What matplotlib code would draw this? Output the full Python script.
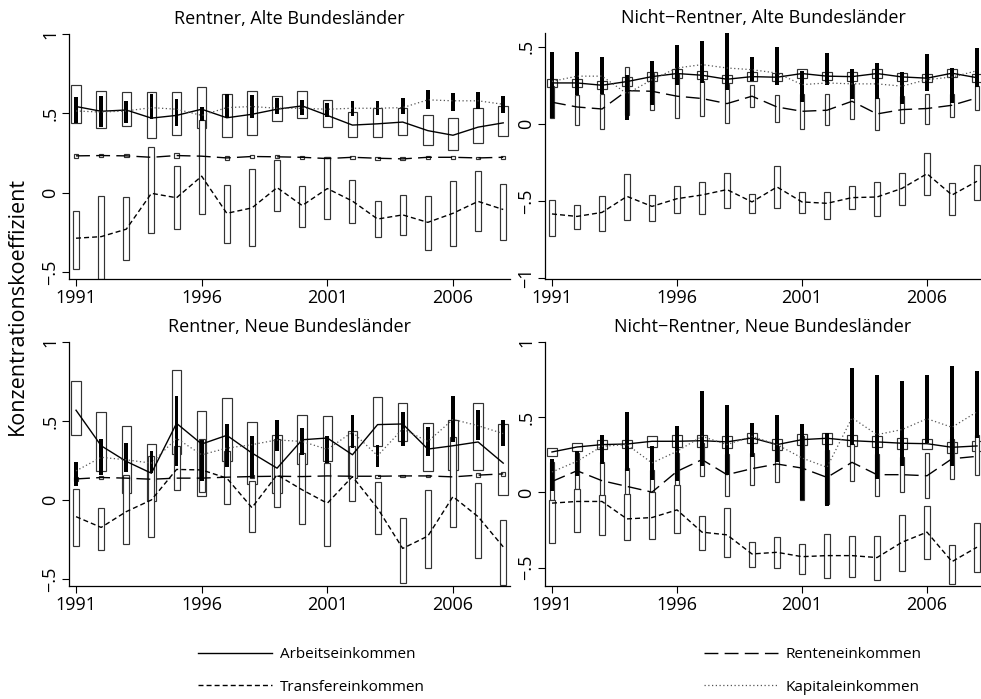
import numpy as np
import matplotlib
matplotlib.use('Agg')
import matplotlib.pyplot as plt
from matplotlib.lines import Line2D

plt.rcParams['font.family'] = ['Open Sans', 'DejaVu Sans']

years = np.arange(1991, 2009)
xticks = [1991, 1996, 2001, 2006]

# Rentner, Alte Bundeslaender
ra_arb = [0.543, 0.513, 0.521, 0.470, 0.487, 0.526, 0.472, 0.494, 0.526, 0.547, 0.487, 0.426, 0.434, 0.445, 0.391, 0.362, 0.413, 0.440]
ra_arb_lo = [0.438, 0.410, 0.421, 0.343, 0.364, 0.410, 0.353, 0.364, 0.449, 0.470, 0.411, 0.353, 0.349, 0.366, 0.300, 0.266, 0.313, 0.355]
ra_arb_hi = [0.679, 0.640, 0.636, 0.632, 0.632, 0.666, 0.623, 0.643, 0.611, 0.638, 0.585, 0.509, 0.534, 0.536, 0.491, 0.470, 0.534, 0.547]
ra_ren = [0.232, 0.234, 0.232, 0.223, 0.234, 0.230, 0.219, 0.228, 0.226, 0.223, 0.215, 0.223, 0.217, 0.213, 0.223, 0.223, 0.219, 0.223]
ra_ren_lo = [0.221, 0.223, 0.222, 0.212, 0.219, 0.215, 0.209, 0.218, 0.217, 0.213, 0.205, 0.214, 0.208, 0.204, 0.214, 0.214, 0.210, 0.214]
ra_ren_hi = [0.243, 0.245, 0.242, 0.234, 0.249, 0.245, 0.229, 0.238, 0.235, 0.233, 0.225, 0.232, 0.226, 0.222, 0.232, 0.232, 0.228, 0.232]
ra_tra = [-0.287, -0.277, -0.230, -0.004, -0.032, 0.104, -0.130, -0.096, 0.032, -0.081, 0.026, -0.053, -0.166, -0.140, -0.187, -0.130, -0.055, -0.106]
ra_tra_lo = [-0.481, -0.545, -0.423, -0.255, -0.226, -0.134, -0.317, -0.334, -0.113, -0.219, -0.166, -0.191, -0.277, -0.268, -0.364, -0.336, -0.240, -0.300]
ra_tra_hi = [-0.113, -0.019, -0.026, 0.287, 0.166, 0.455, 0.051, 0.147, 0.206, 0.040, 0.228, 0.079, -0.053, -0.017, -0.021, 0.072, 0.138, 0.057]
ra_kap = [0.515, 0.508, 0.515, 0.536, 0.526, 0.487, 0.536, 0.543, 0.532, 0.532, 0.526, 0.532, 0.532, 0.536, 0.585, 0.579, 0.579, 0.557]
ra_kap_lo = [0.440, 0.413, 0.436, 0.462, 0.423, 0.451, 0.472, 0.472, 0.494, 0.487, 0.477, 0.483, 0.487, 0.498, 0.530, 0.515, 0.530, 0.504]
ra_kap_hi = [0.600, 0.611, 0.577, 0.621, 0.589, 0.543, 0.621, 0.613, 0.596, 0.583, 0.568, 0.579, 0.579, 0.596, 0.647, 0.630, 0.632, 0.611]

# Nicht-Rentner, Alte Bundeslaender
na_arb = [0.266, 0.266, 0.251, 0.275, 0.307, 0.327, 0.316, 0.290, 0.307, 0.303, 0.327, 0.310, 0.307, 0.327, 0.305, 0.297, 0.329, 0.300]
na_arb_lo = [0.240, 0.239, 0.224, 0.248, 0.280, 0.299, 0.289, 0.263, 0.280, 0.276, 0.299, 0.283, 0.280, 0.300, 0.278, 0.270, 0.302, 0.273]
na_arb_hi = [0.292, 0.293, 0.278, 0.302, 0.334, 0.355, 0.343, 0.317, 0.334, 0.330, 0.355, 0.337, 0.334, 0.354, 0.332, 0.324, 0.356, 0.327]
na_ren = [0.141, 0.110, 0.097, 0.216, 0.212, 0.180, 0.165, 0.132, 0.180, 0.110, 0.082, 0.089, 0.147, 0.065, 0.093, 0.100, 0.121, 0.169]
na_ren_lo = [0.039, -0.004, -0.030, 0.060, 0.093, 0.039, 0.054, 0.006, 0.108, 0.013, -0.032, -0.009, 0.035, -0.037, 0.006, 0.002, 0.045, 0.093]
na_ren_hi = [0.243, 0.186, 0.197, 0.370, 0.331, 0.321, 0.276, 0.258, 0.252, 0.190, 0.196, 0.195, 0.259, 0.167, 0.180, 0.195, 0.197, 0.245]
na_tra = [-0.584, -0.600, -0.574, -0.470, -0.535, -0.485, -0.461, -0.426, -0.506, -0.409, -0.506, -0.515, -0.478, -0.474, -0.418, -0.323, -0.461, -0.372]
na_tra_lo = [-0.725, -0.682, -0.695, -0.621, -0.630, -0.576, -0.584, -0.545, -0.580, -0.545, -0.578, -0.615, -0.552, -0.597, -0.526, -0.461, -0.589, -0.494]
na_tra_hi = [-0.491, -0.528, -0.470, -0.325, -0.461, -0.405, -0.379, -0.320, -0.455, -0.271, -0.444, -0.442, -0.405, -0.379, -0.318, -0.190, -0.381, -0.266]
na_kap = [0.276, 0.310, 0.310, 0.196, 0.287, 0.363, 0.385, 0.363, 0.352, 0.330, 0.255, 0.266, 0.260, 0.260, 0.245, 0.288, 0.304, 0.345]
na_kap_lo = [0.039, 0.186, 0.197, 0.026, 0.126, 0.251, 0.266, 0.223, 0.277, 0.255, 0.141, 0.255, 0.162, 0.162, 0.132, 0.212, 0.136, 0.240]
na_kap_hi = [0.468, 0.466, 0.435, 0.316, 0.411, 0.509, 0.541, 0.600, 0.435, 0.498, 0.342, 0.461, 0.359, 0.396, 0.335, 0.455, 0.364, 0.494]

# Rentner, Neue Bundeslaender
rn_arb = [0.568, 0.343, 0.244, 0.169, 0.485, 0.354, 0.409, 0.297, 0.201, 0.381, 0.392, 0.286, 0.477, 0.481, 0.322, 0.343, 0.367, 0.233]
rn_arb_lo = [0.413, 0.186, 0.042, -0.004, 0.290, 0.028, 0.244, 0.100, 0.042, 0.229, 0.248, 0.138, 0.339, 0.371, 0.186, 0.191, 0.189, 0.032]
rn_arb_hi = [0.756, 0.559, 0.468, 0.354, 0.820, 0.564, 0.646, 0.496, 0.413, 0.540, 0.532, 0.434, 0.653, 0.614, 0.487, 0.504, 0.612, 0.481]
rn_ren = [0.133, 0.142, 0.138, 0.131, 0.138, 0.138, 0.144, 0.148, 0.150, 0.148, 0.152, 0.150, 0.150, 0.152, 0.152, 0.146, 0.157, 0.165]
rn_ren_lo = [0.122, 0.131, 0.127, 0.120, 0.126, 0.127, 0.133, 0.138, 0.140, 0.137, 0.142, 0.141, 0.141, 0.143, 0.143, 0.136, 0.146, 0.153]
rn_ren_hi = [0.144, 0.153, 0.149, 0.142, 0.150, 0.149, 0.155, 0.158, 0.160, 0.159, 0.162, 0.159, 0.159, 0.161, 0.161, 0.156, 0.168, 0.177]
rn_tra = [-0.106, -0.174, -0.074, 0.000, 0.193, 0.190, 0.138, -0.049, 0.159, 0.064, -0.021, 0.148, -0.053, -0.307, -0.229, 0.021, -0.106, -0.297]
rn_tra_lo = [-0.292, -0.318, -0.282, -0.237, 0.064, 0.050, -0.028, -0.200, -0.047, -0.155, -0.290, -0.004, -0.214, -0.525, -0.430, -0.170, -0.367, -0.536]
rn_tra_hi = [0.070, -0.051, 0.159, 0.275, 0.339, 0.386, 0.307, 0.117, 0.386, 0.300, 0.233, 0.339, 0.112, -0.114, 0.061, 0.400, 0.106, -0.127]
rn_kap = [0.184, 0.270, 0.254, 0.233, 0.390, 0.286, 0.328, 0.350, 0.380, 0.370, 0.320, 0.430, 0.280, 0.450, 0.370, 0.510, 0.470, 0.420]
rn_kap_lo = [0.091, 0.159, 0.180, 0.169, 0.212, 0.121, 0.208, 0.138, 0.307, 0.282, 0.233, 0.328, 0.208, 0.339, 0.275, 0.367, 0.377, 0.339]
rn_kap_hi = [0.239, 0.386, 0.360, 0.307, 0.659, 0.381, 0.483, 0.403, 0.508, 0.455, 0.407, 0.540, 0.345, 0.555, 0.464, 0.655, 0.572, 0.506]

# Nicht-Rentner, Neue Bundeslaender
nn_arb = [0.269, 0.302, 0.318, 0.322, 0.340, 0.340, 0.344, 0.336, 0.362, 0.318, 0.351, 0.360, 0.344, 0.336, 0.327, 0.324, 0.300, 0.309]
nn_arb_lo = [0.245, 0.276, 0.290, 0.294, 0.303, 0.300, 0.304, 0.298, 0.327, 0.284, 0.316, 0.325, 0.307, 0.300, 0.292, 0.291, 0.265, 0.273]
nn_arb_hi = [0.293, 0.328, 0.346, 0.350, 0.377, 0.380, 0.384, 0.374, 0.397, 0.352, 0.386, 0.395, 0.381, 0.372, 0.362, 0.357, 0.335, 0.345]
nn_ren = [0.073, 0.144, 0.078, 0.040, 0.002, 0.140, 0.218, 0.118, 0.158, 0.189, 0.162, 0.100, 0.200, 0.118, 0.118, 0.111, 0.224, 0.240]
nn_ren_lo = [-0.053, 0.024, -0.040, -0.080, -0.100, 0.020, 0.107, -0.022, 0.051, 0.069, -0.050, -0.080, 0.078, -0.022, 0.000, -0.038, 0.091, 0.118]
nn_ren_hi = [0.200, 0.264, 0.200, 0.160, 0.150, 0.260, 0.329, 0.258, 0.265, 0.309, 0.374, 0.280, 0.322, 0.258, 0.236, 0.260, 0.357, 0.384]
nn_tra = [-0.071, -0.060, -0.060, -0.176, -0.167, -0.116, -0.264, -0.282, -0.409, -0.398, -0.427, -0.420, -0.420, -0.433, -0.331, -0.264, -0.460, -0.364]
nn_tra_lo = [-0.338, -0.264, -0.282, -0.316, -0.309, -0.271, -0.382, -0.427, -0.498, -0.504, -0.540, -0.567, -0.562, -0.582, -0.522, -0.442, -0.611, -0.527]
nn_tra_hi = [-0.049, 0.024, -0.016, -0.011, 0.000, 0.051, -0.156, -0.104, -0.327, -0.298, -0.342, -0.278, -0.287, -0.287, -0.149, -0.089, -0.349, -0.204]
nn_kap = [0.136, 0.207, 0.307, 0.318, 0.196, 0.273, 0.373, 0.318, 0.373, 0.318, 0.229, 0.167, 0.496, 0.384, 0.418, 0.490, 0.433, 0.536]
nn_kap_lo = [0.007, 0.107, 0.189, 0.144, 0.080, 0.073, 0.178, 0.118, 0.233, 0.200, -0.049, -0.087, 0.318, 0.089, 0.173, 0.329, 0.173, 0.360]
nn_kap_hi = [0.224, 0.273, 0.384, 0.536, 0.311, 0.440, 0.673, 0.584, 0.462, 0.518, 0.456, 0.396, 0.829, 0.778, 0.744, 0.778, 0.840, 0.807]

W, H = 981, 699
fig = plt.figure(figsize=(W / 100, H / 100), dpi=100)


def box_axes(l, r, t, b):
    return fig.add_axes([l / W, 1 - b / H, (r - l) / W, (b - t) / H])


SOLID = '-'
LONG = (0, (10, 4.5))
SHORT = (0, (3.6, 2.2))
DOT = (0, (1, 2))
edge = '#333333'


def panel(ax, title, arb, arb_lo, arb_hi, ren, ren_lo, ren_hi, tra, tra_lo, tra_hi, kap, kap_lo, kap_hi,
          ylim, yt, ytl, xlim):
    def boxes(lo, hi, w, z):
        lo = np.array(lo); hi = np.array(hi)
        ax.bar(years, hi - lo, bottom=lo, width=w, facecolor='white', edgecolor=edge,
               linewidth=0.85, zorder=z)
    boxes(arb_lo, arb_hi, 0.38, 2)
    boxes(ren_lo, ren_hi, 0.18, 2.1)
    boxes(tra_lo, tra_hi, 0.24, 2.2)
    klo = np.array(kap_lo); khi = np.array(kap_hi)
    ax.bar(years, khi - klo, bottom=klo, width=0.15, color='black', linewidth=0, zorder=3)
    ax.plot(years, arb, color='black', lw=1.0, ls=SOLID, zorder=4)
    ax.plot(years, ren, color='black', lw=1.0, ls=LONG, zorder=4)
    ax.plot(years, tra, color='black', lw=1.0, ls=SHORT, zorder=4)
    ax.plot(years, kap, color='#555555', lw=0.9, ls=DOT, zorder=4)
    ax.set_xlim(*xlim)
    ax.set_ylim(*ylim)
    ax.set_xticks(xticks)
    ax.set_xticklabels([str(x) for x in xticks], fontsize=13)
    ax.set_yticks(yt)
    ax.set_yticklabels(ytl, rotation=90, va='center', fontsize=13)
    ax.tick_params(direction='out', length=5, width=0.8, pad=2)
    for s in ['top', 'right']:
        ax.spines[s].set_visible(False)
    for s in ['left', 'bottom']:
        ax.spines[s].set_linewidth(0.9)
    ax.set_title(title, fontsize=13, pad=7)


ax1 = box_axes(69, 510, 34, 279)
panel(ax1, 'Rentner, Alte Bundesländer', ra_arb, ra_arb_lo, ra_arb_hi, ra_ren, ra_ren_lo, ra_ren_hi,
      ra_tra, ra_tra_lo, ra_tra_hi, ra_kap, ra_kap_lo, ra_kap_hi,
      (-0.544, 1), [-0.5, 0, 0.5, 1], ['−.5', '0', '.5', '1'], (1990.72, 2008.27))

ax2 = box_axes(545, 981, 33, 279)
panel(ax2, 'Nicht−Rentner, Alte Bundesländer', na_arb, na_arb_lo, na_arb_hi, na_ren, na_ren_lo, na_ren_hi,
      na_tra, na_tra_lo, na_tra_hi, na_kap, na_kap_lo, na_kap_hi,
      (-1.006, 0.59), [-1, -0.5, 0, 0.5], ['−1', '−.5', '0', '.5'], (1990.72, 2008.16))

ax3 = box_axes(69, 510, 342, 586)
panel(ax3, 'Rentner, Neue Bundesländer', rn_arb, rn_arb_lo, rn_arb_hi, rn_ren, rn_ren_lo, rn_ren_hi,
      rn_tra, rn_tra_lo, rn_tra_hi, rn_kap, rn_kap_lo, rn_kap_hi,
      (-0.545, 1), [-0.5, 0, 0.5, 1], ['−.5', '0', '.5', '1'], (1990.72, 2008.27))

ax4 = box_axes(545, 981, 342, 586)
panel(ax4, 'Nicht−Rentner, Neue Bundesländer', nn_arb, nn_arb_lo, nn_arb_hi, nn_ren, nn_ren_lo, nn_ren_hi,
      nn_tra, nn_tra_lo, nn_tra_hi, nn_kap, nn_kap_lo, nn_kap_hi,
      (-0.622, 1), [-0.5, 0, 0.5, 1], ['−.5', '0', '.5', '1'], (1990.72, 2008.16))

fig.text(17 / W, 1 - 306 / H, 'Konzentrationskoeffizient', rotation=90, ha='center', va='center', fontsize=15.5)

h_arb = Line2D([], [], color='black', lw=1.0, ls=SOLID)
h_ren = Line2D([], [], color='black', lw=1.0, ls=LONG)
h_tra = Line2D([], [], color='black', lw=1.0, ls=SHORT)
h_kap = Line2D([], [], color='#555555', lw=0.9, ls=DOT)

leg_kw = dict(loc='upper left', frameon=False, handlelength=4.85, handletextpad=0.5,
              labelspacing=1.15, borderpad=0, borderaxespad=0, fontsize=11)
fig.legend([h_arb, h_tra], ['Arbeitseinkommen', 'Transfereinkommen'],
           bbox_to_anchor=(198 / W, 1 - 647 / H), **leg_kw)
fig.legend([h_ren, h_kap], ['Renteneinkommen', 'Kapitaleinkommen'],
           bbox_to_anchor=(704 / W, 1 - 647 / H), **leg_kw)

fig.savefig('out.png', dpi=100)
